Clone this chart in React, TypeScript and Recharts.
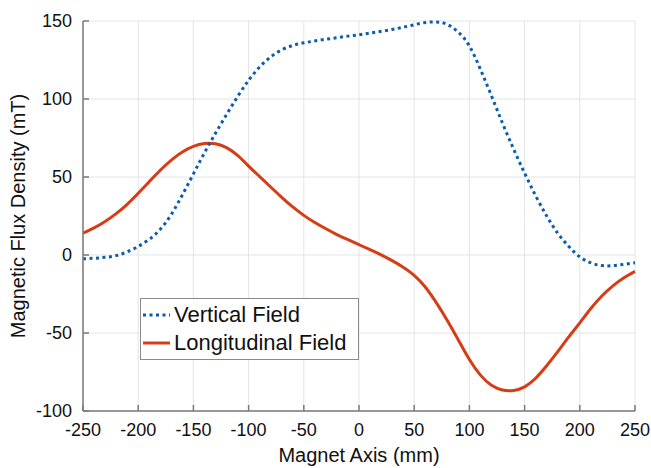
import React from "react";
import {
  LineChart,
  Line,
  XAxis,
  YAxis,
  CartesianGrid,
  Legend,
} from "recharts";

// magnet axis positions (mm)
const positions = [
  -250, -240, -230, -220, -210, -200, -190, -180, -170, -160, -150, -140, -130,
  -120, -110, -100, -90, -80, -70, -60, -50, -40, -30, -20, -10, 0, 10, 20, 30,
  40, 50, 60, 70, 80, 90, 100, 110, 120, 130, 140, 150, 160, 170, 180, 190, 200,
  210, 220, 230, 240, 250,
];

// vertical field (mT)
const verticalField = [
  -2.4, -2.1, -1.5, -0.4, 2, 5.5, 10, 16.5, 26, 38.5, 52, 65.5, 78, 90, 101.5,
  112, 120.5, 127, 131.5, 134.3, 136, 137.2, 138.3, 139.3, 140.3, 141.2, 142.3,
  143.4, 144.6, 146, 147.6, 149, 149.4, 147.8, 142.8, 134, 119, 102, 84.5,
  68, 52.5, 38, 25, 14, 5.5, -1.2, -5, -6.8, -6.8, -6, -5,
];

// longitudinal field (mT)
const longitudinalField = [
  14, 17.4, 21.5, 26.5, 32.5, 39.6, 47, 54.3, 60.8, 66, 69.6, 71.5, 71.3,
  68.8, 63.8, 57, 50.3, 43.6, 37, 30.8, 25.4, 20.8, 16.8, 13.1, 9.8, 6.6, 3.4,
  0.1, -3.6, -7.8, -13, -20.5, -30.5, -42, -54.5, -67, -77, -83.5, -86.5, -86.8,
  -84.5, -79, -71, -62, -52.5, -43.5, -34.3, -26.3, -19.8, -14.6, -10.5,
];

const xTicks = [-250, -200, -150, -100, -50, 0, 50, 100, 150, 200, 250];
const yTicks = [-100, -50, 0, 50, 100, 150];

const data = positions.map((x, i) => ({
  x,
  vertical: verticalField[i],
  longitudinal: longitudinalField[i],
}));

const FONT = '"Liberation Sans", Arial, sans-serif';
const BLUE = "#0b5cad";
const RED = "#d63c16";
const AXIS = "#7a7a7a";

const renderLegend = () => (
  <div
    style={{
      border: "1px solid #8a8a8a",
      background: "#fff",
      width: 215,
      height: 58,
      padding: "2px 0 0 2px",
      boxSizing: "content-box",
      fontFamily: FONT,
      fontSize: 22,
      color: "#111",
    }}
  >
    {[
      { name: "Vertical Field", color: BLUE, dash: "3 3.5" },
      { name: "Longitudinal Field", color: RED, dash: undefined },
    ].map((item) => (
      <div
        key={item.name}
        style={{ display: "flex", alignItems: "center", height: 28 }}
      >
        <svg width={27} height={10} style={{ marginRight: 4 }}>
          <line
            x1={0}
            y1={5}
            x2={27}
            y2={5}
            stroke={item.color}
            strokeWidth={3}
            strokeDasharray={item.dash}
          />
        </svg>
        <span style={{ whiteSpace: "nowrap" }}>{item.name}</span>
      </div>
    ))}
  </div>
);

const App = () => {
  return (
    <div style={{ position: "absolute", left: 0, top: 0, background: "#fff" }}>
      <LineChart
        width={651}
        height={468}
        data={data}
        margin={{ top: 21, right: 16, bottom: 0, left: 0 }}
      >
        <CartesianGrid
          xAxisId="bottom"
          yAxisId="left"
          stroke="#e4e4e4"
          strokeWidth={1}
        />
        <XAxis
          xAxisId="bottom"
          type="number"
          dataKey="x"
          domain={[-250, 250]}
          ticks={xTicks}
          height={57}
          stroke={AXIS}
          strokeWidth={1.5}
          tickSize={-6}
          tickMargin={18}
          tick={{ fill: "#111", fontSize: 18, fontFamily: FONT }}
          label={{
            content: () => (
              <text
                x={359}
                y={462}
                textAnchor="middle"
                fontSize={20}
                fontFamily={FONT}
                fill="#111"
              >
                Magnet Axis (mm)
              </text>
            ),
          }}
        />
        <XAxis
          xAxisId="top"
          orientation="top"
          type="number"
          dataKey="x"
          domain={[-250, 250]}
          ticks={xTicks}
          height={0}
          stroke={AXIS}
          strokeWidth={1.5}
          tickSize={-6}
          tickFormatter={() => ""}
        />
        <YAxis
          yAxisId="left"
          type="number"
          domain={[-100, 150]}
          ticks={yTicks}
          width={83}
          stroke={AXIS}
          strokeWidth={1.5}
          tickSize={-6}
          tickMargin={17}
          tick={{ fill: "#111", fontSize: 18, fontFamily: FONT }}
          label={{
            content: () => (
              <text
                x={25}
                y={216}
                transform="rotate(-90, 25, 216)"
                textAnchor="middle"
                fontSize={20}
                fontFamily={FONT}
                fill="#111"
              >
                Magnetic Flux Density (mT)
              </text>
            ),
          }}
        />
        <YAxis
          yAxisId="right"
          orientation="right"
          type="number"
          domain={[-100, 150]}
          ticks={yTicks}
          width={0}
          stroke={AXIS}
          strokeWidth={1.5}
          tickSize={-6}
          tickFormatter={() => ""}
        />
        <Legend
          layout="vertical"
          align="center"
          verticalAlign="middle"
          content={renderLegend}
          wrapperStyle={{ left: 140, top: 298, width: 217, height: 60 }}
        />
        <Line
          xAxisId="bottom"
          yAxisId="left"
          type="natural"
          dataKey="longitudinal"
          name="Longitudinal Field"
          stroke={RED}
          strokeWidth={3}
          dot={false}
          isAnimationActive={false}
        />
        <Line
          xAxisId="bottom"
          yAxisId="left"
          type="natural"
          dataKey="vertical"
          name="Vertical Field"
          stroke={BLUE}
          strokeWidth={3}
          strokeDasharray="3 3.5"
          dot={false}
          isAnimationActive={false}
        />
      </LineChart>
    </div>
  );
};

export default App;
